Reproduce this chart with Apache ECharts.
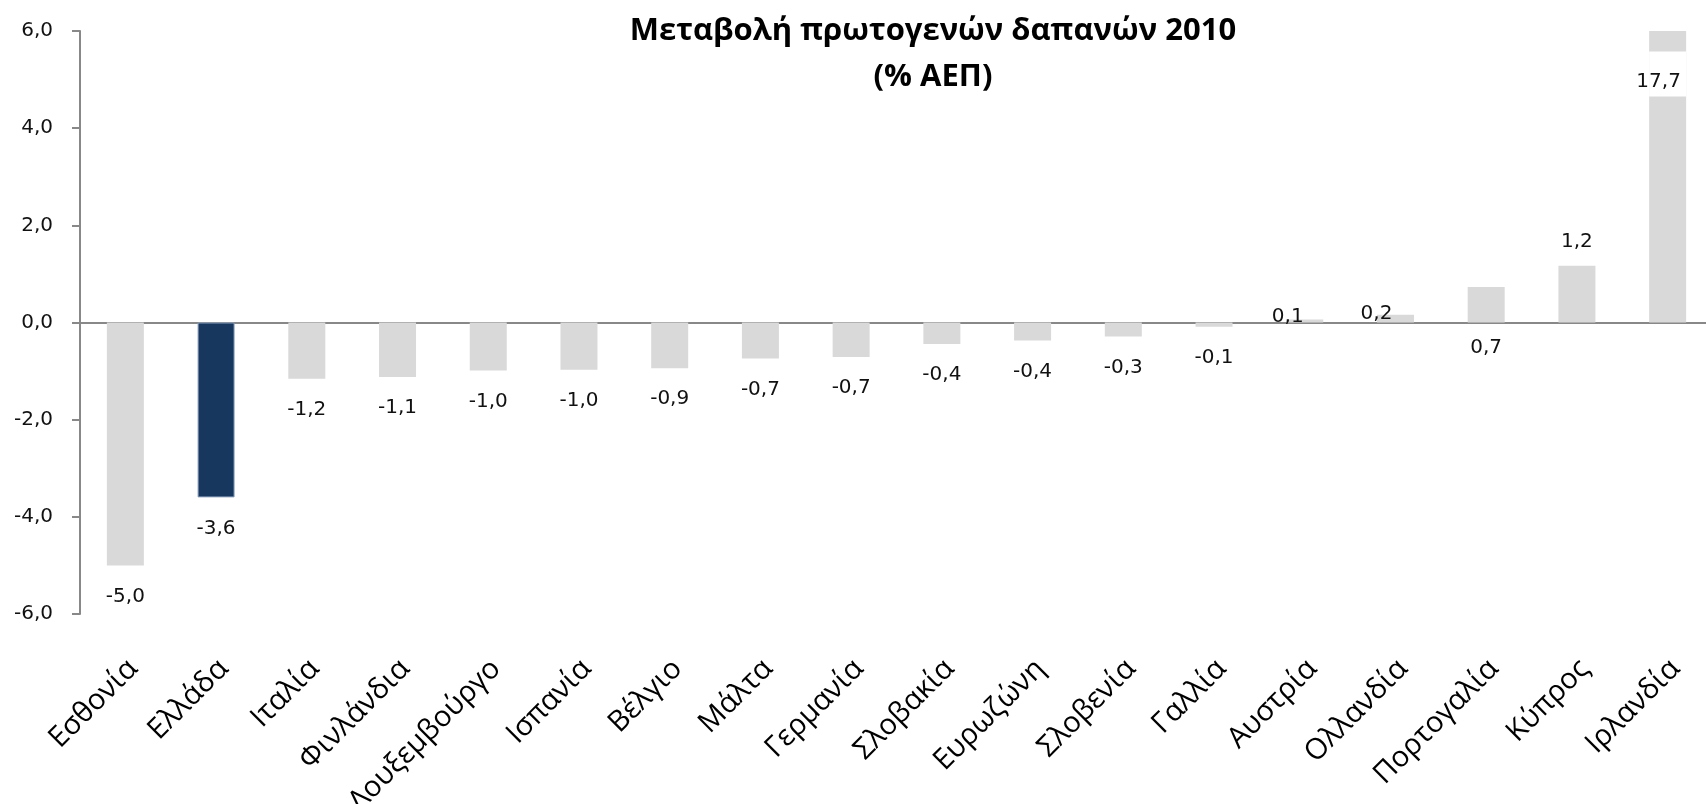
<!DOCTYPE html>
<html>
<head>
<meta charset="utf-8">
<title>Μεταβολή πρωτογενών δαπανών 2010</title>
<script src="https://cdn.jsdelivr.net/npm/echarts@6/dist/echarts.min.js"></script>
<style>
  html, body { margin: 0; padding: 0; background: #fff; }
  #chart { width: 1706px; height: 804px; }
</style>
</head>
<body>
<div id="chart"></div>
<script>
// κατηγορίες και τιμές (% ΑΕΠ)
const countries = ['Εσθονία', 'Ελλάδα', 'Ιταλία', 'Φινλάνδια', 'Λουξεμβούργο', 'Ισπανία', 'Βέλγιο', 'Μάλτα', 'Γερμανία',
  'Σλοβακία', 'Ευρωζώνη', 'Σλοβενία', 'Γαλλία', 'Αυστρία', 'Ολλανδία', 'Πορτογαλία', 'Κύπρος', 'Ιρλανδία'];
const values = [-5.0, -3.6, -1.16, -1.12, -0.99, -0.97, -0.94, -0.74, -0.71,
  -0.44, -0.37, -0.29, -0.09, 0.06, 0.16, 0.73, 1.17, 17.7];
const yTicks = [-6, -4, -2, 0, 2, 4, 6];
const highlight = 'Ελλάδα';
// διακοπή της μπάρας της Ιρλανδίας (η τιμή ξεπερνά τον άξονα)
const breakFrom = 4.65;
const breakTo = 5.58;

const fmt = v => v.toFixed(1).replace('.', ',');

const chart = echarts.init(document.getElementById('chart'));

// μικρές μετακινήσεις ετικετών όπως στο πρωτότυπο
const labelTweaks = {
  'Αυστρία': { position: 'top', distance: 0, offset: [-17, 7] },
  'Ολλανδία': { position: 'top', distance: 0, offset: [-19, 9] },
  'Πορτογαλία': { position: 'bottom', distance: 15 },
  'Ιρλανδία': { show: false }
};

const barData = values.map((v, i) => {
  const name = countries[i];
  const label = labelTweaks[name] || (v < 0 ? { position: 'bottom', distance: 21 } : { position: 'top', distance: 14 });
  return {
    value: v,
    itemStyle: name === highlight ? { color: '#17375E', borderColor: '#8aa0bd', borderWidth: 1 } : undefined,
    label: label
  };
});

const yMax = yTicks[yTicks.length - 1];
const breakBase = values.map(v => (v > yMax ? breakFrom : '-'));
const breakGap = values.map(v => (v > yMax ? breakTo - breakFrom : '-'));

const labelFont = { fontFamily: 'DejaVu Sans', fontSize: 20, color: '#111' };

const option = {
  animation: false,
  title: {
    text: 'Μεταβολή πρωτογενών δαπανών 2010\n(% ΑΕΠ)',
    left: 928,
    top: 3,
    textAlign: 'center',
    textStyle: {
      fontFamily: 'Open Sans',
      fontWeight: 'bold',
      fontSize: 31,
      lineHeight: 46,
      color: '#000'
    }
  },
  grid: { left: 80, top: 31, width: 1633, height: 583, outerBoundsMode: 'none', containLabel: false },
  xAxis: [
    {
      type: 'category',
      data: countries,
      axisLine: { onZero: true, lineStyle: { color: '#888', width: 2 } },
      axisTick: { length: 9, lineStyle: { color: '#888', width: 2 } },
      axisLabel: { show: false }
    },
    {
      type: 'category',
      data: countries,
      position: 'bottom',
      axisLine: { show: false, onZero: false },
      axisTick: { show: false },
      axisLabel: {
        interval: 0,
        rotate: 45,
        margin: 58,
        padding: [0, -11, 0, 0],
        fontFamily: 'Open Sans',
        fontSize: 29,
        color: '#000'
      }
    }
  ],
  yAxis: {
    type: 'value',
    min: yTicks[0],
    max: yMax,
    interval: 2,
    axisLine: { show: true, lineStyle: { color: '#888', width: 2 } },
    axisTick: { show: true, length: 8, lineStyle: { color: '#888', width: 2 } },
    splitLine: { show: false },
    axisLabel: Object.assign({ margin: 27, formatter: v => fmt(v) }, labelFont)
  },
  series: [
    {
      type: 'bar',
      data: barData,
      barWidth: 37,
      barGap: '-100%',
      clip: true,
      itemStyle: { color: '#D9D9D9' },
      label: Object.assign({ show: true, formatter: p => fmt(p.value) }, labelFont)
    },
    {
      type: 'bar',
      stack: 'brk',
      data: breakBase,
      barWidth: 37,
      itemStyle: { color: 'rgba(0,0,0,0)' },
      silent: true
    },
    {
      type: 'bar',
      stack: 'brk',
      data: breakGap,
      barWidth: 37,
      itemStyle: { color: '#fff' },
      label: Object.assign({
        show: true,
        position: 'inside',
        offset: [-9, 8],
        formatter: p => fmt(values[p.dataIndex])
      }, labelFont),
      silent: true
    }
  ]
};

chart.setOption(option);
</script>
</body>
</html>
